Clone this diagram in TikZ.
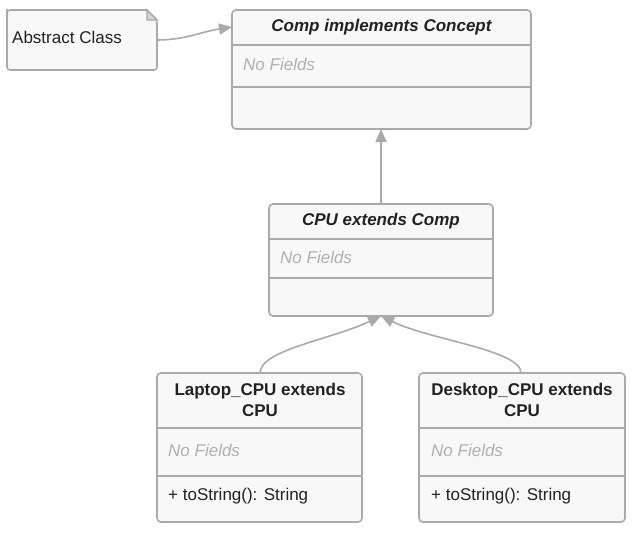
\documentclass[tikz,border=0pt]{standalone}
\usepackage{fontspec}
\setmainfont{Liberation Sans}
\usetikzlibrary{arrows.meta}
\definecolor{bordc}{HTML}{AAAAAA}
\definecolor{fillc}{HTML}{F8F8F8}
\definecolor{txtc}{HTML}{222222}
\definecolor{mutec}{HTML}{B0B0B0}
\tikzset{
  box/.style={draw=bordc, fill=fillc, line width=1.6pt, rounded corners=4pt},
  divider/.style={draw=bordc, line width=1.4pt},
  conn/.style={draw=bordc, line width=1.6pt, -{Triangle[length=13pt,width=11pt]}},
  ttl/.style={font=\fontsize{17}{21}\selectfont\bfseries\itshape, text=txtc, anchor=center, inner sep=0pt},
  ttlb/.style={font=\fontsize{17}{21}\selectfont\bfseries, text=txtc, anchor=center, align=center, inner sep=0pt},
  nofield/.style={font=\fontsize{17}{20}\selectfont\itshape, text=mutec, anchor=west, inner sep=0pt},
  meth/.style={font=\fontsize{17}{20}\selectfont, text=txtc, anchor=west, inner sep=0pt},
}
\begin{document}
\begin{tikzpicture}[x=1pt,y=-1pt]
\useasboundingbox (0,0) rectangle (634,533);
% note
\draw[box, rounded corners=0pt] (7,12) [rounded corners=3pt] -- (7,70) -- (157,70) -- (157,20) [rounded corners=0pt] -- (147,10) [rounded corners=3pt] -- (7,10) -- cycle;
\draw[divider, fill=bordc!50] (147,10) -- (147,20) -- (157,20) -- cycle;
\node[meth] (note) at (12,37) {Abstract Class};
\coordinate (noteR) at (157,40);
% Comp
\draw[box] (232,10) rectangle (531,129);
\draw[divider] (232,45) -- (531,45);
\draw[divider] (232,87) -- (531,87);
\node[ttl] (comp) at (381.5,27) {Comp implements Concept};
\node[nofield] (compf) at (243,64) {No Fields};
\coordinate (compL) at (232,27);
\coordinate (compB) at (381,129);
% CPU
\draw[box] (269,204) rectangle (493,316);
\draw[divider] (269,239) -- (493,239);
\draw[divider] (269,278) -- (493,278);
\node[ttl] (cpu) at (381,221) {CPU extends Comp};
\node[nofield] (cpuf) at (280,257) {No Fields};
\coordinate (cpuT) at (381,204);
\coordinate (cpuB) at (381,316);
% Laptop
\draw[box] (157,373) rectangle (362,522);
\draw[divider] (157,428) -- (362,428);
\draw[divider] (157,476) -- (362,476);
\node[ttlb] (lap) at (260,400) {Laptop\_CPU extends\\CPU};
\node[nofield] (lapf) at (168,450) {No Fields};
\node[meth] (lapm) at (168,496) {+ toString(): String};
\coordinate (lapT) at (260,373);
% Desktop
\draw[box] (419,373) rectangle (625,522);
\draw[divider] (419,428) -- (625,428);
\draw[divider] (419,476) -- (625,476);
\node[ttlb] (desk) at (522,400) {Desktop\_CPU extends\\CPU};
\node[nofield] (deskf) at (431,450) {No Fields};
\node[meth] (deskm) at (431,496) {+ toString(): String};
\coordinate (deskT) at (521,373);
% connectors
\draw[conn] (noteR) .. controls (185,40) and (200,32) .. (compL);
\draw[conn] (cpuT) -- (compB);
\draw[conn] (lapT) .. controls (260,350) and (330,340) .. (cpuB);
\draw[conn] (deskT) .. controls (521,350) and (430,340) .. (cpuB);
\end{tikzpicture}
\end{document}
